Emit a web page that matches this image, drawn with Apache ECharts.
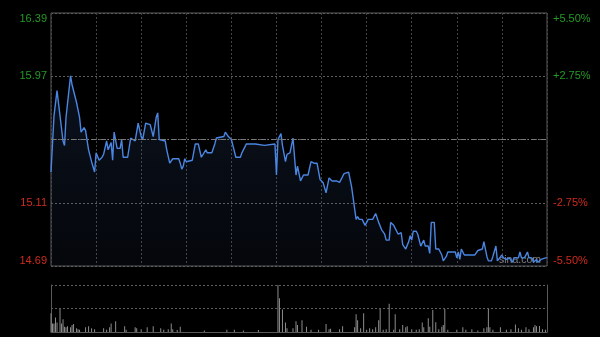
<!DOCTYPE html>
<html>
<head>
<meta charset="utf-8">
<script src="https://cdn.jsdelivr.net/npm/echarts@6/dist/echarts.min.js"></script>
<style>
html,body{margin:0;padding:0;background:#000;}
#chart{width:600px;height:337px;}
</style>
</head>
<body>
<div id="chart"></div>
<script>
// ---- data ----
const prevClose = 15.54;
const pctTicks = [-5.5, -2.75, 0, 2.75, 5.5];
const minutes = [0,2,4,8,9,10,13,14,15,17,19,20,22,23,25,27,29,30,32,34,35,37,38,40,41,42,44,46,47,48,51,53,54,56,58,59,60,61,63,66,67,68,70,71,72,76,77,79,80,81,85,86,87,88,89,90,94,96,98,100,101,103,104,107,109,110,115,116,117,118,120,121,123,126,127,128,130,136,137,142,143,149,150,151,152,153,154,156,157,159,161,163,164,166,168,171,173,175,177,179,181,182,183,185,187,190,191,192,194,195,198,200,201,203,204,205,207,209,211,214,216,218,220,222,223,225,226,228,229,231,233,234,236,238,239,240,241,243,244,246,247,248,249,251,252,253,255,256,258,260,261,263,264,269,270,271,272,273,275,277,282,284,287,288,290,291,293,294,296,297,298,300,301,303,305,307,308,311,312,313,315,317,318,320,321,323,324,326,329,330];
const prices = [15.32,15.70,15.87,15.53,15.50,15.69,15.97,15.91,15.92,15.79,15.69,15.59,15.62,15.60,15.47,15.39,15.32,15.45,15.40,15.42,15.44,15.53,15.47,15.52,15.40,15.59,15.48,15.48,15.54,15.42,15.42,15.55,15.56,15.53,15.65,15.65,15.56,15.54,15.65,15.64,15.64,15.56,15.69,15.72,15.54,15.53,15.47,15.38,15.38,15.41,15.41,15.38,15.34,15.36,15.41,15.39,15.40,15.51,15.51,15.42,15.42,15.47,15.45,15.45,15.51,15.55,15.56,15.59,15.59,15.56,15.54,15.50,15.42,15.42,15.45,15.46,15.51,15.51,15.50,15.50,15.51,15.51,15.30,15.54,15.55,15.58,15.50,15.39,15.44,15.45,15.55,15.30,15.36,15.26,15.30,15.30,15.39,15.38,15.38,15.27,15.25,15.24,15.18,15.28,15.26,15.26,15.27,15.25,15.29,15.31,15.32,15.22,15.21,15.00,15.02,15.00,15.00,14.96,15.00,15.00,15.04,14.98,14.93,14.90,14.86,14.86,14.98,14.96,14.95,14.90,14.91,14.83,14.80,14.85,14.89,14.86,14.92,14.92,14.90,14.82,14.82,14.86,14.82,14.82,14.77,14.98,14.98,14.80,14.80,14.76,14.72,14.75,14.78,14.78,14.74,14.78,14.73,14.80,14.76,14.76,14.76,14.79,14.80,14.85,14.75,14.72,14.72,14.75,14.82,14.72,14.71,14.76,14.74,14.73,14.74,14.71,14.74,14.74,14.78,14.74,14.74,14.78,14.74,14.74,14.71,14.73,14.71,14.73,14.74,14.74];
const volMinutes = [0,1,2,3,4,6,7,8,9,10,11,13,14,15,17,18,19,23,25,27,29,35,37,39,40,43,49,50,56,57,60,64,68,73,75,78,80,81,84,86,102,117,122,128,138,151,152,154,156,157,161,163,164,167,170,173,178,183,185,186,192,194,202,203,204,206,208,210,212,214,216,218,219,221,223,225,228,229,232,234,236,237,240,243,245,247,248,251,252,254,256,258,260,261,262,264,270,274,276,280,284,288,290,291,292,294,299,303,306,309,311,313,316,318,321,322,323,325,327,329];
const volumes = [40,18,18,31,20,49,18,27,11,10,12,10,15,17,8,6,5,10,12,8,6,8,5,10,18,23,12,5,10,8,6,10,12,8,5,6,18,6,4,11,3,5,5,3,4,100,72,48,20,8,8,23,15,25,11,5,5,17,6,7,6,12,10,38,25,8,40,5,8,6,10,25,49,5,6,60,5,38,6,15,10,12,6,5,6,20,10,29,11,47,21,6,11,15,49,5,5,10,5,6,3,8,10,49,10,5,10,5,6,16,8,5,10,6,10,15,12,13,6,5];

// ---- build ----
const GREEN = '#259a25', RED = '#d02a1f';
const FONT = 'Liberation Sans, Arial, sans-serif';
const toPct = p => (p / prevClose - 1) * 100;
const lineData = minutes.map((m, i) => [m, toPct(prices[i])]);
const volData = volMinutes.map((m, i) => [m, volumes[i]]);
const isTick = (v, t) => Math.abs(v - t) < 1e-6;

const chart = echarts.init(document.getElementById('chart'));
chart.setOption({
  backgroundColor: '#000',
  animation: false,
  grid: [
    {left: 51, top: 13, width: 496, height: 253, show: true, borderColor: '#5a5a5a', borderWidth: 1, backgroundColor: 'transparent'},
    {left: 51, top: 285, width: 496, height: 47, show: false}
  ],
  xAxis: [
    {gridIndex: 0, type: 'value', min: 0, max: 330, interval: 30,
     axisLine: {show: false}, axisTick: {show: false}, axisLabel: {show: false},
     splitLine: {show: true, lineStyle: {color: '#444', type: [2, 2], width: 1}}},
    {gridIndex: 1, type: 'value', min: 0, max: 330, interval: 30,
     axisLine: {show: true, lineStyle: {color: '#5a5a5a'}}, axisTick: {show: false}, axisLabel: {show: false},
     splitLine: {show: false}}
  ],
  yAxis: [
    {gridIndex: 0, type: 'value', min: pctTicks[0], max: pctTicks[4], interval: 2.75, position: 'left',
     axisLine: {show: false}, axisTick: {show: false},
     splitLine: {show: true, lineStyle: {color: '#5e5e5e', type: [2, 2]}},
     axisLabel: {
       margin: 4, fontSize: 11, fontFamily: FONT,
       verticalAlignMinLabel: 'bottom', verticalAlignMaxLabel: 'top',
       formatter: v => {
         if (isTick(v, 0)) return '';
         const s = (prevClose * (1 + v / 100)).toFixed(2);
         return v > 0 ? '{g|' + s + '}' : '{r|' + s + '}';
       },
       rich: {g: {color: GREEN, fontSize: 11, fontFamily: FONT},
              r: {color: RED, fontSize: 11, fontFamily: FONT}}
     }},
    {gridIndex: 0, type: 'value', min: pctTicks[0], max: pctTicks[4], interval: 2.75, position: 'right',
     axisLine: {show: false}, axisTick: {show: false}, splitLine: {show: false},
     axisLabel: {
       margin: 6, fontSize: 11, fontFamily: FONT,
       verticalAlignMinLabel: 'bottom', verticalAlignMaxLabel: 'top',
       formatter: v => {
         if (isTick(v, 0)) return '';
         const s = (v > 0 ? '+' : '') + v.toFixed(2) + '%';
         return v > 0 ? '{g|' + s + '}' : '{r|' + s + '}';
       },
       rich: {g: {color: GREEN, fontSize: 11, fontFamily: FONT},
              r: {color: RED, fontSize: 11, fontFamily: FONT}}
     }},
    {gridIndex: 1, type: 'value', min: 0, max: 100, interval: 50, position: 'left',
     axisLine: {show: true, lineStyle: {color: '#5a5a5a'}}, axisTick: {show: false}, axisLabel: {show: false},
     splitLine: {show: true, lineStyle: {color: '#5e5e5e', type: [2, 2]}}},
    {gridIndex: 1, type: 'value', min: 0, max: 100, interval: 50, position: 'right',
     axisLine: {show: true, lineStyle: {color: '#5a5a5a'}}, axisTick: {show: false}, axisLabel: {show: false},
     splitLine: {show: false}}
  ],
  series: [
    {type: 'line', xAxisIndex: 0, yAxisIndex: 0, data: lineData, showSymbol: false, symbol: 'none',
     lineStyle: {color: '#4a86e2', width: 1.4},
     areaStyle: {origin: 'start', color: new echarts.graphic.LinearGradient(0, 0, 0, 1, [
       {offset: 0, color: 'rgba(60,100,170,0.26)'}, {offset: 1, color: 'rgba(60,90,150,0.10)'}])},
     markLine: {silent: true, symbol: 'none', label: {show: false},
       lineStyle: {color: '#7a7a7a', type: [5, 2, 1, 2], width: 1},
       data: [{yAxis: 0}]}},
    {type: 'bar', xAxisIndex: 1, yAxisIndex: 2, data: volData, barWidth: 1,
     itemStyle: {color: '#8c8c8c'}}
  ],
  graphic: [
    {type: 'text', left: 499, top: 255, silent: true,
     style: {text: 'sina.com', fill: 'rgba(170,170,170,0.75)', font: '10.5px "Liberation Sans", Arial, sans-serif'}}
  ]
});
</script>
</body>
</html>
